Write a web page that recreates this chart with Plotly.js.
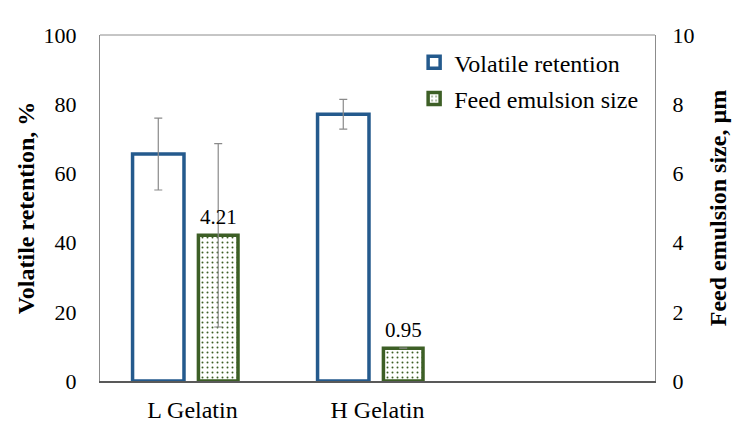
<!DOCTYPE html>
<html>
<head>
<meta charset="utf-8">
<script src="https://cdn.plot.ly/plotly-3.0.1.min.js"></script>
<style>
  html, body { margin: 0; padding: 0; background: #fff; }
  #chart { width: 742px; height: 427px; }
</style>
</head>
<body>
<div id="chart"></div>
<script>
// Encapsulation samples
const categories = ['L Gelatin', 'H Gelatin'];
const categoryPos = [0, 1];

// Volatile retention, % (left axis)
const volatileRetention = [65.6, 77.1];
const volatileError = [10.4, 4.3];

// Feed emulsion size, µm (right axis)
const emulsionSize = [4.21, 0.95];
const emulsionError = [2.65, 0];

const serif = 'Liberation Serif';
const blue = '#245a8d';
const green = '#3d5f26';

const volWidth = 0.278, volOffset = -0.324;
const feedWidth = 0.214, feedOffset = 0.032;

const traces = [
  {
    type: 'bar',
    name: 'Volatile retention',
    x: categoryPos,
    y: volatileRetention,
    yaxis: 'y',
    width: volWidth,
    offset: volOffset,
    legendgroup: 'a',
    marker: { color: '#ffffff', line: { color: blue, width: 3.5 } },
    error_y: { type: 'data', array: volatileError, visible: true,
               color: '#8a8a8a', thickness: 1.2, width: 4 },
    hoverinfo: 'skip'
  },
  {
    type: 'bar',
    name: 'Feed emulsion size',
    x: categoryPos,
    y: emulsionSize,
    yaxis: 'y2',
    width: feedWidth,
    offset: feedOffset,
    legendgroup: 'b',
    marker: {
      color: '#ffffff',
      line: { color: green, width: 3.5 },
      pattern: { shape: '.', fgcolor: green, bgcolor: '#ffffff',
                 size: 5, solidity: 0.12, fillmode: 'replace' }
    },
    error_y: { type: 'data', array: emulsionError, visible: true,
               color: '#8a8a8a', thickness: 1.2, width: 4 },
    hoverinfo: 'skip'
  }
];

// value labels above the emulsion-size bars
const annotations = emulsionSize.map((v, i) => ({
  x: categoryPos[i] + feedOffset + feedWidth / 2,
  y: v,
  xref: 'x',
  yref: 'y2',
  text: v.toFixed(2),
  showarrow: false,
  yanchor: 'bottom',
  yshift: 4,
  font: { family: serif, size: 21, color: '#000' }
}));

const layout = {
  width: 742,
  height: 427,
  margin: { l: 100, r: 87, t: 35, b: 46 },
  paper_bgcolor: '#ffffff',
  plot_bgcolor: '#ffffff',
  font: { family: serif, color: '#000' },
  showlegend: true,
  legend: {
    x: 0.566, y: 0.985, xanchor: 'left', yanchor: 'top',
    bgcolor: 'rgba(0,0,0,0)',
    font: { family: serif, size: 24, color: '#000' },
    traceorder: 'grouped',
    tracegroupgap: 2,
    itemwidth: 30
  },
  xaxis: {
    range: [-0.5, 2.5],
    tickmode: 'array',
    tickvals: categoryPos,
    ticktext: categories,
    ticks: '',
    showgrid: false,
    zeroline: false,
    showline: true,
    linecolor: '#595959',
    linewidth: 1.5,
    ticklabelstandoff: 7,
    tickfont: { family: serif, size: 24, color: '#000' },
    fixedrange: true
  },
  yaxis: {
    range: [0, 100],
    dtick: 20,
    ticks: '',
    showgrid: false,
    zeroline: false,
    showline: true,
    linecolor: '#8c8c8c',
    linewidth: 1,
    ticklabelstandoff: 18,
    tickfont: { family: serif, size: 22, color: '#000' },
    title: { text: '<b>Volatile retention, %</b>', standoff: 2,
             font: { family: serif, size: 24, color: '#000' } },
    fixedrange: true
  },
  yaxis2: {
    range: [0, 10],
    dtick: 2,
    overlaying: 'y',
    side: 'right',
    ticks: '',
    showgrid: false,
    zeroline: false,
    showline: true,
    linecolor: '#8c8c8c',
    linewidth: 1,
    ticklabelstandoff: 12,
    tickfont: { family: serif, size: 22, color: '#000' },
    title: { text: '<b>Feed emulsion size, µm</b>', standoff: 15,
             font: { family: serif, size: 24, color: '#000' } },
    fixedrange: true
  },
  shapes: [
    { type: 'line', xref: 'paper', yref: 'paper', x0: 0, x1: 1, y0: 1, y1: 1,
      line: { color: '#8c8c8c', width: 1 } }
  ],
  annotations: annotations
};

Plotly.newPlot('chart', traces, layout, { displayModeBar: false, staticPlot: true });
</script>
</body>
</html>
